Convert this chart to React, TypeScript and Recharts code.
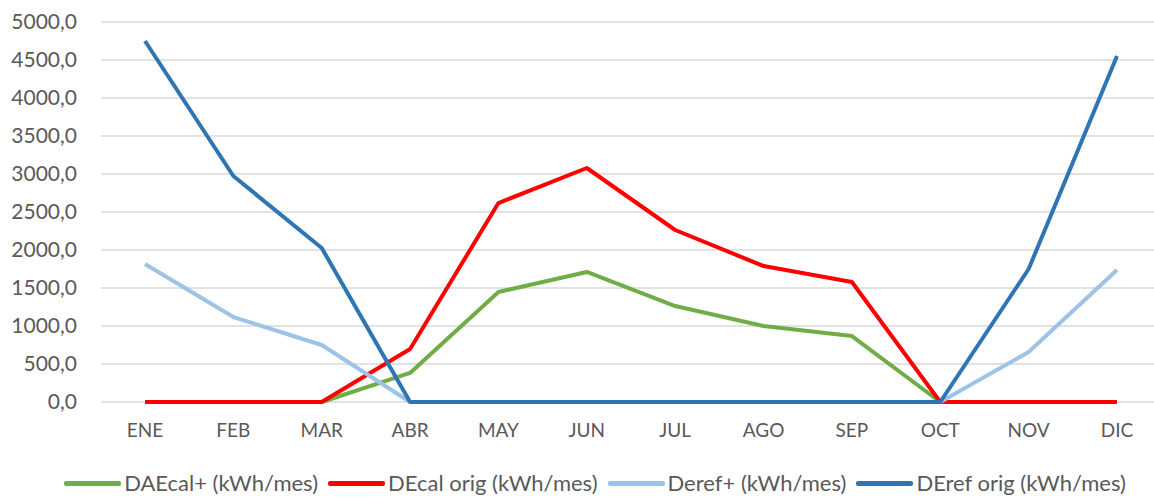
import React from "react";
import {
  LineChart,
  Line,
  XAxis,
  YAxis,
  CartesianGrid,
  Legend,
} from "recharts";

// meses del eje X
const meses = ["ENE", "FEB", "MAR", "ABR", "MAY", "JUN", "JUL", "AGO", "SEP", "OCT", "NOV", "DIC"];

// valores (kWh/mes)
const daeCalPlus = [0, 0, 0, 382, 1447, 1711, 1263, 1000, 868, 0, 0, 0];
const deCalOrig = [0, 0, 0, 697, 2618, 3079, 2263, 1789, 1579, 0, 0, 0];
const derefPlus = [1816, 1118, 750, 0, 0, 0, 0, 0, 0, 0, 658, 1737];
const derefOrig = [4750, 2974, 2026, 0, 0, 0, 0, 0, 0, 0, 1750, 4553];

const yTicks = [0, 500, 1000, 1500, 2000, 2500, 3000, 3500, 4000, 4500, 5000];

const data = meses.map((mes, i) => ({
  mes,
  daeCalPlus: daeCalPlus[i],
  deCalOrig: deCalOrig[i],
  derefPlus: derefPlus[i],
  derefOrig: derefOrig[i],
}));

const series = [
  { key: "daeCalPlus", name: "DAEcal+ (kWh/mes)", color: "#70AD47" },
  { key: "deCalOrig", name: "DEcal orig (kWh/mes)", color: "#FF0000" },
  { key: "derefPlus", name: "Deref+ (kWh/mes)", color: "#9DC3E6" },
  { key: "derefOrig", name: "DEref orig (kWh/mes)", color: "#2E75B6" },
];

const FONT = "Lato, 'Open Sans', sans-serif";
const TEXT = "#595959";

const formatY = (v: number) => v.toFixed(1).replace(".", ",");

const LegendBox = () => (
  <div
    style={{
      display: "flex",
      justifyContent: "center",
      alignItems: "center",
      height: 26,
      paddingLeft: 36,
      boxSizing: "border-box",
      fontFamily: FONT,
      fontSize: 22,
      lineHeight: "26px",
      color: TEXT,
      gap: 10,
      whiteSpace: "nowrap",
    }}
  >
    {series.map((s) => (
      <div key={s.key} style={{ display: "flex", alignItems: "center" }}>
        <span
          style={{
            display: "inline-block",
            width: 57,
            height: 5,
            borderRadius: 2,
            background: s.color,
            marginRight: 3,
          }}
        />
        <span>{s.name}</span>
      </div>
    ))}
  </div>
);

export default function App() {
  return (
    <div
      style={{
        position: "fixed",
        left: 0,
        top: 0,
        width: 1154,
        height: 497,
        overflow: "hidden",
        background: "#fff",
      }}
    >
      <LineChart
        width={1170}
        height={497}
        data={data}
        margin={{ top: 22, right: 9, left: 0, bottom: 19 }}
      >
        <CartesianGrid vertical={false} stroke="#D9D9D9" strokeWidth={1.5} />
        <XAxis
          dataKey="mes"
          axisLine={false}
          tickLine={false}
          tickSize={0}
          tickMargin={22}
          height={50}
          padding={{ left: 44, right: 44 }}
          tick={{ fill: TEXT, fontSize: 19, fontFamily: FONT }}
        />
        <YAxis
          domain={[0, 5000]}
          ticks={yTicks}
          width={101}
          axisLine={false}
          tickLine={false}
          tickSize={0}
          tickMargin={24}
          tickFormatter={formatY}
          tick={{ fill: TEXT, fontSize: 21, fontFamily: FONT }}
        />
        <Legend
          content={<LegendBox />}
          wrapperStyle={{ left: 0, top: 470, width: 1154 }}
        />
        {series.map((s) => (
          <Line
            key={s.key}
            type="linear"
            dataKey={s.key}
            name={s.name}
            stroke={s.color}
            strokeWidth={4}
            dot={false}
            strokeLinejoin="round"
            isAnimationActive={false}
          />
        ))}
      </LineChart>
    </div>
  );
}
